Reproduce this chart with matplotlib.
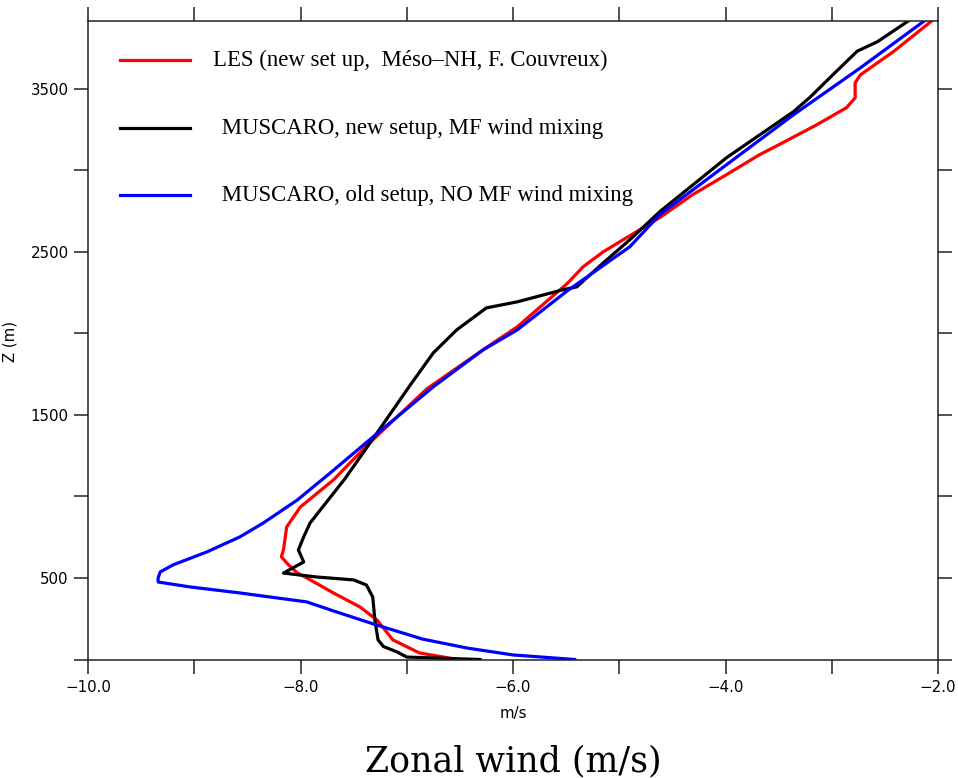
import matplotlib

matplotlib.use("Agg")
import matplotlib.pyplot as plt
from matplotlib.ticker import FixedLocator, FuncFormatter

# zonal wind profiles, u (m/s) against height z (m)
les_u = [-6.52, -6.88, -7.13, -7.28, -7.44, -7.69, -7.94, -8.03, -8.13, -8.18,
         -8.16, -8.13, -8.00, -7.69, -7.35, -6.81, -6.28, -5.96, -5.49, -5.34,
         -5.15, -4.62, -4.31, -3.99, -3.68, -3.46, -3.14, -2.86, -2.78, -2.78,
         -2.73, -2.42, -2.06]
les_z = [0, 40, 120, 242, 322, 408, 500, 530, 592, 630,
         672, 813, 936, 1101, 1328, 1660, 1900, 2040, 2305, 2408,
         2500, 2709, 2850, 2973, 3095, 3169, 3279, 3384, 3444, 3536,
         3585, 3727, 3915]

mf_u = [-6.31, -7.00, -7.09, -7.22, -7.27, -7.30, -7.32, -7.38, -7.50, -7.85,
        -8.16, -7.97, -8.02, -7.97, -7.91, -7.58, -7.28, -6.97, -6.75, -6.53,
        -6.25, -5.96, -5.53, -5.40, -5.15, -4.90, -4.62, -3.99, -3.36, -3.20,
        -2.99, -2.76, -2.57, -2.28]
mf_z = [0, 15, 46, 80, 120, 242, 383, 457, 488, 506,
        530, 598, 672, 752, 837, 1110, 1389, 1680, 1880, 2021,
        2156, 2193, 2267, 2285, 2432, 2574, 2745, 3077, 3359, 3450,
        3585, 3730, 3788, 3915]

old_u = [-5.42, -6.00, -6.43, -6.85, -7.30, -7.70, -7.94, -8.57, -9.04, -9.34,
         -9.34, -9.32, -9.20, -8.88, -8.57, -8.35, -8.03, -7.72, -7.35, -6.75,
         -6.28, -5.96, -5.49, -4.90, -4.62, -3.99, -3.36, -2.73, -2.13]
old_z = [0, 28, 70, 125, 215, 300, 353, 408, 445, 475,
         500, 537, 580, 660, 752, 837, 978, 1144, 1347, 1672,
         1899, 2021, 2260, 2531, 2727, 3034, 3340, 3628, 3915]

labels = [
    "LES (new set up,  Méso\u2013NH, F. Couvreux)",
    " MUSCARO, new setup, MF wind mixing",
    " MUSCARO, old setup, NO MF wind mixing",
]
colors = ["#ff0000", "#000000", "#0000ff"]

fig = plt.figure(figsize=(9.58, 7.78), dpi=100)
ax = fig.add_axes([88 / 958, 1 - 659.5 / 778, 850 / 958, 638.5 / 778])

lw = 2.3
ax.plot(les_u, les_z, color=colors[0], lw=lw)
ax.plot(mf_u, mf_z, color=colors[1], lw=lw)
ax.plot(old_u, old_z, color=colors[2], lw=lw)

ax.set_xlim(-10, -2)
ax.set_ylim(0, 3915)

ax.xaxis.set_major_locator(FixedLocator([-10, -8, -6, -4, -2]))
ax.xaxis.set_minor_locator(FixedLocator([-9, -7, -5, -3]))
ax.xaxis.set_major_formatter(FuncFormatter(lambda v, _: f"{v:.1f}".replace("-", "\u2212")))
ax.yaxis.set_major_locator(FixedLocator([500, 1500, 2500, 3500]))
ax.yaxis.set_minor_locator(FixedLocator([0, 1000, 2000, 3000]))

for which in ("major", "minor"):
    ax.tick_params(which=which, direction="out", length=10, width=1.1,
                   top=True, right=True, labelsize=10.8, color="#222222")
ax.tick_params(axis="x", pad=5)
ax.tick_params(axis="y", pad=4)
for s in ax.spines.values():
    s.set_linewidth(1.1)
    s.set_color("#222222")

ax.set_xlabel("m/s", fontsize=10.8, labelpad=8)
fig.text(10 / 958, 1 - 341 / 778, "Z (m)", rotation=90, fontsize=10.8,
         ha="center", va="center")

# hand-placed key in the upper left corner
key_y = [0.939, 0.832, 0.727]
text_x = [0.147, 0.150, 0.150]
for lab, c, y, tx in zip(labels, colors, key_y, text_x):
    ax.plot([0.0376, 0.12], [y, y], color=c, lw=lw, transform=ax.transAxes,
            clip_on=False)
    ax.text(tx, y, lab, transform=ax.transAxes, ha="left", va="center",
            fontsize=16.4, family="Liberation Serif")

fig.text(513 / 958, 1 - 761 / 778, "Zonal wind (m/s)", ha="center",
         va="center", fontsize=25, family="DejaVu Serif")

fig.savefig("out.png", dpi=100)
